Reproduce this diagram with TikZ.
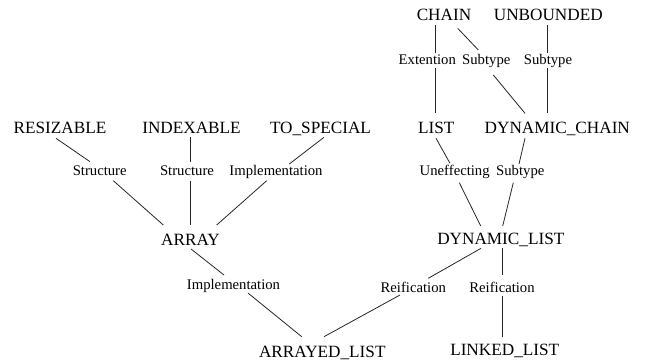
\documentclass[tikz,border=0pt]{standalone}
\usepackage{fontspec}
\setmainfont{Liberation Serif}
\begin{document}
\begin{tikzpicture}[x=1pt,y=-1pt,
  nd/.style={anchor=base,inner sep=0pt,font=\fontsize{17.2}{20}\selectfont},
  lb/.style={anchor=base,inner sep=0pt,font=\fontsize{14.7}{17}\selectfont},
  ed/.style={line width=0.8pt,black!85}]
\useasboundingbox (0,0) rectangle (645,363);
% nodes
\node[nd] (chain) at (444,20.7) {CHAIN};
\node[nd] (unb) at (548.3,20.7) {UNBOUNDED};
\node[nd] (res) at (60,133.3) {RESIZABLE};
\node[nd] (idx) at (191.5,133.3) {INDEXABLE};
\node[nd] (tos) at (320.5,133.3) {TO\_SPECIAL};
\node[nd] (list) at (436.3,133.3) {LIST};
\node[nd] (dc) at (557.3,133.3) {DYNAMIC\_CHAIN};
\node[nd] (arr) at (190.5,245.5) {ARRAY};
\node[nd] (dl) at (500.8,245) {DYNAMIC\_LIST};
\node[nd] (al) at (322.3,357) {ARRAYED\_LIST};
\node[nd] (ll) at (504.7,355.7) {LINKED\_LIST};
% labels
\node[lb] (ext) at (427.3,65) {Extention};
\node[lb] (sub1) at (486.3,65) {Subtype};
\node[lb] (sub2) at (548,65) {Subtype};
\node[lb] (s1) at (99.7,176) {Structure};
\node[lb] (s2) at (187,176) {Structure};
\node[lb] (i1) at (276,176) {Implementation};
\node[lb] (unef) at (454.7,176) {Uneffecting};
\node[lb] (sub3) at (520.3,176) {Subtype};
\node[lb] (i2) at (233.5,289.3) {Implementation};
\node[lb] (r1) at (413.3,292.7) {Reification};
\node[lb] (r2) at (502,292.7) {Reification};
% edges
\draw[ed] ([shift={(-4,5)}]res.base) -- ([shift={(-9.7,-14.3)}]s1.base);
\draw[ed] ([shift={(13.6,4.7)}]s1.base) -- ([shift={(-27.2,-20.5)}]arr.base);
\draw[ed] ([shift={(-1.5,3.4)}]idx.base) -- ([shift={(3,-14.3)}]s2.base);
\draw[ed] ([shift={(3,4.7)}]s2.base) -- ([shift={(-0.5,-20.5)}]arr.base);
\draw[ed] ([shift={(3.5,4)}]tos.base) -- ([shift={(13.3,-12)}]i1.base);
\draw[ed] ([shift={(-9.3,4.7)}]i1.base) -- ([shift={(26.2,-20.5)}]arr.base);
\draw[ed] ([shift={(-8.3,4.3)}]chain.base) -- ([shift={(8.4,-11.7)}]ext.base);
\draw[ed] ([shift={(8.4,3.3)}]ext.base) -- ([shift={(-0.6,-20)}]list.base);
\draw[ed] ([shift={(13.7,7.6)}]chain.base) -- ([shift={(-8,-15)}]sub1.base);
\draw[ed] ([shift={(7,10)}]sub1.base) -- ([shift={(-32.3,-20)}]dc.base);
\draw[ed] ([shift={(-1,4.3)}]unb.base) -- ([shift={(-0.7,-11.7)}]sub2.base);
\draw[ed] ([shift={(-0.7,3.3)}]sub2.base) -- ([shift={(-10,-20)}]dc.base);
\draw[ed] ([shift={(-0.3,5)}]list.base) -- ([shift={(-4.7,-12.7)}]unef.base);
\draw[ed] ([shift={(4.6,6.7)}]unef.base) -- ([shift={(-20.1,-19)}]dl.base);
\draw[ed] ([shift={(-32.3,5)}]dc.base) -- ([shift={(-1.3,-12)}]sub3.base);
\draw[ed] ([shift={(-7,6.7)}]sub3.base) -- ([shift={(1.9,-19)}]dl.base);
\draw[ed] ([shift={(0.5,3.5)}]arr.base) -- ([shift={(-9.5,-14.3)}]i2.base);
\draw[ed] ([shift={(14.8,4)}]i2.base) -- ([shift={(-20.6,-20.3)}]al.base);
\draw[ed] ([shift={(-19.8,3.3)}]dl.base) -- ([shift={(15,-14.4)}]r1.base);
\draw[ed] ([shift={(-13.3,2.3)}]r1.base) -- ([shift={(1.7,-20.3)}]al.base);
\draw[ed] ([shift={(1.9,3.3)}]dl.base) -- ([shift={(0.7,-17.7)}]r2.base);
\draw[ed] ([shift={(0.7,3.3)}]r2.base) -- ([shift={(-2,-18.4)}]ll.base);
\end{tikzpicture}
\end{document}
